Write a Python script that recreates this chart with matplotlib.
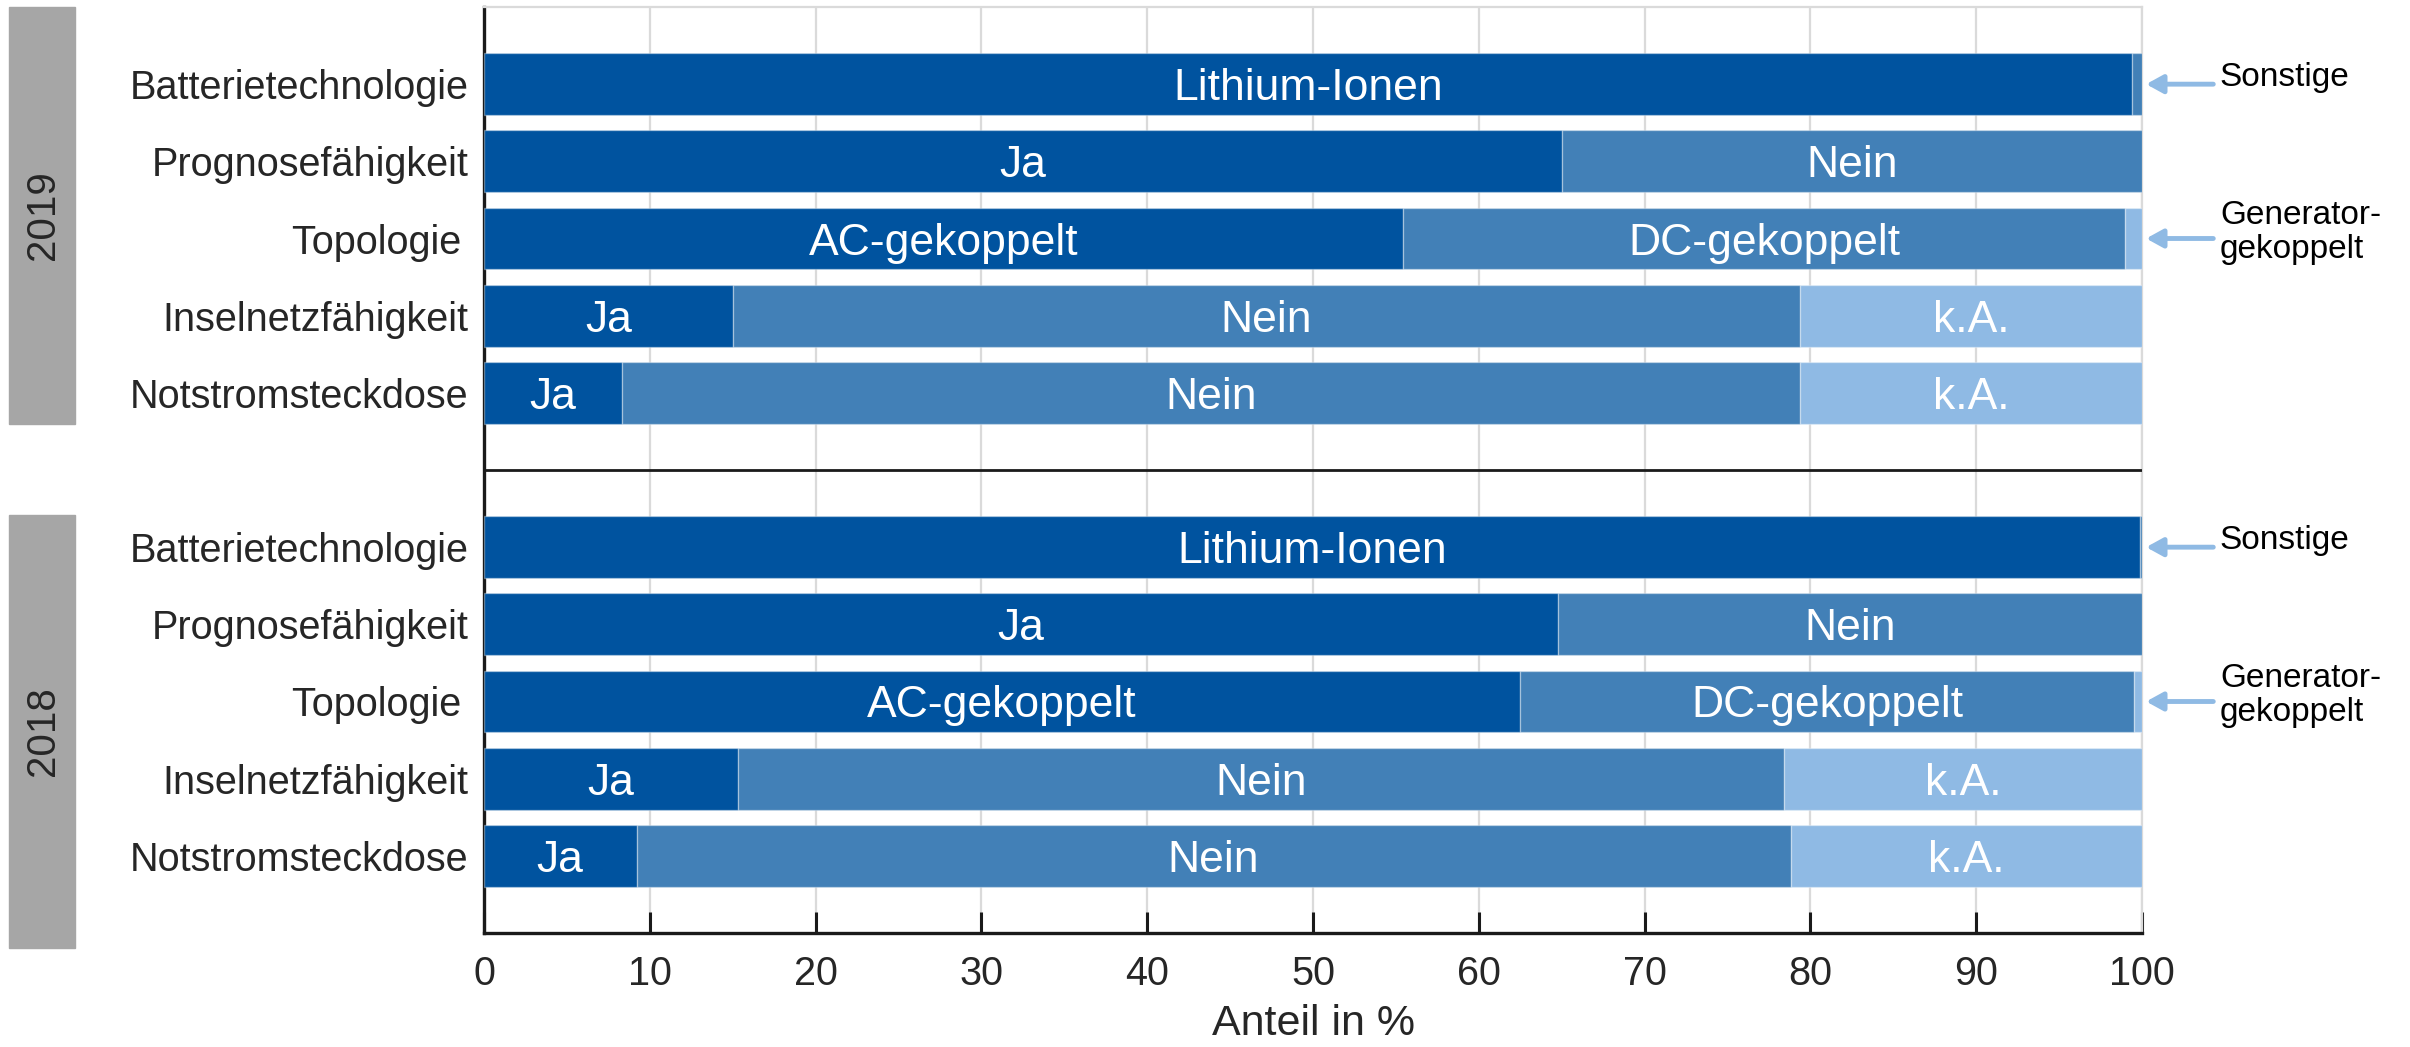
import matplotlib.pyplot as plt
from matplotlib.patches import Rectangle

plt.rcParams["font.family"] = ["Liberation Sans", "DejaVu Sans"]

# survey features, top to bottom within each year block
features = ["Batterietechnologie", "Prognosefähigkeit", "Topologie\u2009",
            "Inselnetzfähigkeit", "Notstromsteckdose"]
years = ["2019", "2018"]

# labels written on the segments (tiny segments stay unlabelled)
segment_labels = [
    ["Lithium-Ionen", ""],
    ["Ja", "Nein"],
    ["AC-gekoppelt", "DC-gekoppelt", ""],
    ["Ja", "Nein", "k.A."],
    ["Ja", "Nein", "k.A."],
]

# shares in percent per feature
shares_2019 = [
    [99.4, 0.6],
    [65.0, 35.0],
    [55.4, 43.6, 1.0],
    [15.0, 64.4, 20.6],
    [8.3, 71.1, 20.6],
]
shares_2018 = [
    [99.9, 0.1],
    [64.8, 35.2],
    [62.5, 37.0, 0.5],
    [15.3, 63.1, 21.6],
    [9.2, 69.6, 21.2],
]

# small segments pointed at from the right
side_notes = {0: "Sonstige", 2: "Generator-\ngekoppelt"}

x_ticks = [0, 10, 20, 30, 40, 50, 60, 70, 80, 90, 100]

colors = ["#00539f", "#4280b7", "#8fbae4"]
text_color = "#262626"

W, H = 2410, 1047
fig = plt.figure(figsize=(W / 100, H / 100), dpi=100)
ax = fig.add_axes([484 / W, 114 / H, 1658 / W, 926 / H])

block_start = {"2019": 1, "2018": 7}
y_pos = []
y_lab = []
for year, shares in zip(years, [shares_2019, shares_2018]):
    for i, row in enumerate(shares):
        y = block_start[year] + i
        y_pos.append(y)
        y_lab.append(features[i])
        left = 0
        for j, val in enumerate(row):
            ax.barh(y, val, left=left, height=0.8, color=colors[j],
                    edgecolor=(1, 1, 1, 0.35), linewidth=1.0, zorder=3)
            lab = segment_labels[i][j]
            if lab:
                ax.text(left + val / 2, y, lab, ha="center", va="center_baseline",
                        color="white", fontsize=32, zorder=4)
            left += val
        if i in side_notes:
            ax.annotate("", xy=(100.25, y), xytext=(104.3, y),
                        annotation_clip=False,
                        arrowprops=dict(arrowstyle="-|>,head_length=1.0,head_width=0.55",
                                        color="#8fbae4", lw=3.5, mutation_scale=10,
                                        shrinkA=0, shrinkB=0))
            ax.text(104.7, y - 0.08, side_notes[i], ha="left", va="center",
                    fontsize=24, color="black", clip_on=False, linespacing=1.15)

# separator between the two years
ax.axhline(6, color="#1a1a1a", lw=2, zorder=5)

ax.set_xlim(0, 100)
ax.set_ylim(12, 0)
ax.set_yticks(y_pos)
ax.set_yticklabels(y_lab)
ax.set_xticks(x_ticks)
ax.set_xticklabels([str(t) for t in x_ticks])
ax.tick_params(axis="y", length=0, pad=11, labelsize=28.5, labelcolor=text_color)
ax.tick_params(axis="x", direction="in", length=15, width=2.2, color="#1a1a1a",
               pad=16, labelsize=28.5, labelcolor=text_color)
ax.set_xlabel("Anteil in %", fontsize=31, color=text_color, labelpad=8)

ax.grid(axis="x", color="#dadada", lw=1.6, zorder=0)
ax.set_axisbelow(True)
for side in ["left", "bottom"]:
    ax.spines[side].set_color("#1a1a1a")
    ax.spines[side].set_linewidth(2.4)
for side in ["top", "right"]:
    ax.spines[side].set_color("#dadada")
    ax.spines[side].set_linewidth(1.6)

# grey year boxes on the far left
year_boxes = {"2019": (623, 417), "2018": (99, 433)}
for year in years:
    y0, h = year_boxes[year]
    fig.add_artist(Rectangle((9 / W, y0 / H), 66 / W, h / H,
                             transform=fig.transFigure, color="#a6a6a6"))
    fig.text(43 / W, (y0 + h / 2) / H, year, rotation=90, ha="center",
             va="center", fontsize=29, color=text_color)

fig.savefig("out.png", dpi=100)
